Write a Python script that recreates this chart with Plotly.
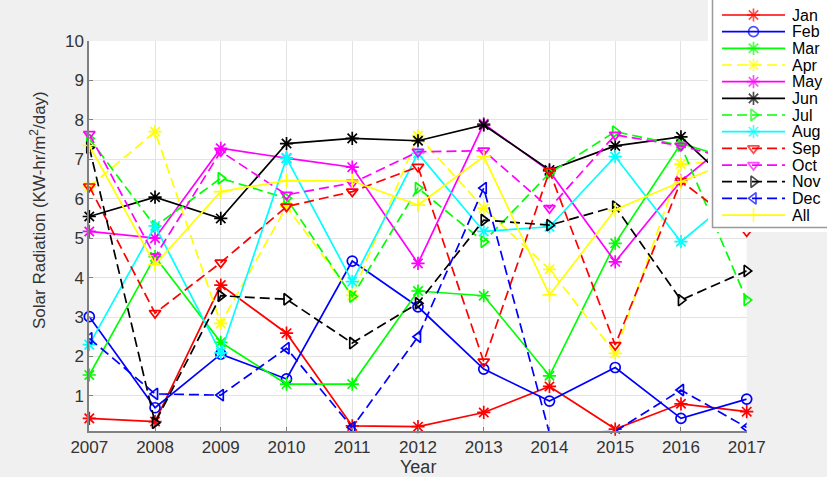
import plotly.graph_objects as go

# ---- data -------------------------------------------------------------
years = [2007, 2008, 2009, 2010, 2011, 2012, 2013, 2014, 2015, 2016, 2017]

jan = [0.43, 0.35, 3.81, 2.59, 0.24, 0.22, 0.58, 1.24, 0.16, 0.80, 0.60]
feb = [3.01, 0.70, 2.06, 1.43, 4.42, 3.26, 1.68, 0.87, 1.72, 0.43, 0.92]
mar = [1.53, 4.53, 2.36, 1.30, 1.30, 3.66, 3.54, 1.51, 4.87, 7.40, 6.90]
apr = [6.30, 7.70, 2.84, 5.80, 3.55, 7.60, 5.76, 4.21, 2.08, 6.88, 7.00]
may = [5.17, 5.00, 7.28, 7.03, 6.80, 4.36, 7.90, 6.70, 4.40, 6.45, 7.80]
jun = [5.55, 6.04, 5.50, 7.40, 7.53, 7.47, 7.87, 6.73, 7.34, 7.57, 6.00]
jul = [7.53, 5.30, 6.52, 6.01, 3.52, 6.27, 4.91, 6.65, 7.70, 7.35, 3.43]
aug = [2.30, 5.31, 2.09, 7.03, 3.90, 7.15, 5.17, 5.29, 7.07, 4.91, 6.30]
sep = [6.31, 3.10, 4.38, 5.80, 6.18, 6.81, 1.87, 6.70, 2.29, 6.45, 5.17]
oct_ = [7.64, 4.53, 7.20, 6.10, 6.40, 7.19, 7.22, 5.76, 7.62, 7.34, 6.90]
nov = [7.30, 0.32, 3.54, 3.45, 2.34, 3.35, 5.46, 5.33, 5.80, 3.43, 4.17]
dec = [2.46, 1.05, 1.02, 2.21, 0.20, 2.50, 6.27, 0.05, 0.10, 1.15, 0.20]
all_ = [7.35, 4.33, 6.18, 6.46, 6.45, 5.84, 7.07, 3.56, 5.72, 6.43, 7.10]

y_ticks = [1, 2, 3, 4, 5, 6, 7, 8, 9, 10]

# name, values, colour, dash, marker symbol
DASH = "10px,5px"
series = [
    ("Jan", jan, "#ff0000", "solid", "asterisk-open"),
    ("Feb", feb, "#0000ff", "solid", "circle-open"),
    ("Mar", mar, "#00ff00", "solid", "asterisk-open"),
    ("Apr", apr, "#ffff00", DASH, "asterisk-open"),
    ("May", may, "#ff00ff", "solid", "asterisk-open"),
    ("Jun", jun, "#000000", "solid", "asterisk-open"),
    ("Jul", jul, "#00ff00", DASH, "triangle-right-open"),
    ("Aug", aug, "#00ffff", "solid", "asterisk-open"),
    ("Sep", sep, "#ff0000", DASH, "triangle-down-open"),
    ("Oct", oct_, "#ff00ff", DASH, "triangle-down-open"),
    ("Nov", nov, "#000000", DASH, "triangle-right-open"),
    ("Dec", dec, "#0000ff", DASH, "triangle-left-open"),
    ("All", all_, "#ffff00", "solid", "cross-thin-open"),
]

# ---- geometry (pixels) ------------------------------------------------
W, H = 827, 477
PX_L, PX_R, PX_T, PX_B = 89.3, 746.7, 41.0, 431.0
LG_L, LG_B = 708.0, 232.0          # legend subplot region (left, bottom)

FONT = "Liberation Sans, Arial, sans-serif"
AX_GREY = "#808080"
TXT = "#333333"

fig = go.Figure()

for name, vals, col, dash, sym in series:
    fig.add_trace(go.Scatter(
        x=years, y=vals, name=name, mode="lines+markers",
        line=dict(color=col, width=1.7, dash=dash),
        marker=dict(symbol=sym, size=11 if "asterisk" in sym else 10,
                    color=col, line=dict(color=col, width=1.7)),
        cliponaxis=(name == "Dec"),
        xaxis="x", yaxis="y", showlegend=False,
    ))

# ---- legend drawn in its own pixel-scaled subplot ---------------------
row0, row_step = 15.0, 16.67
for i, (name, vals, col, dash, sym) in enumerate(series):
    yc = row0 + i * row_step
    fig.add_trace(go.Scatter(
        x=[722, 753.5, 785], y=[yc, yc, yc], mode="lines+markers",
        line=dict(color=col, width=1.7, dash=dash),
        marker=dict(symbol=sym, size=[0, 11 if "asterisk" in sym else 10, 0],
                    color=col, line=dict(color=col, width=1.7)),
        xaxis="x2", yaxis="y2", showlegend=False, hoverinfo="skip",
    ))
    fig.add_annotation(x=790, y=yc, xref="x2", yref="y2", text=name,
                       showarrow=False, xanchor="left", yanchor="middle",
                       font=dict(family=FONT, size=16, color="#000000"))

fig.add_shape(type="rect", xref="x2", yref="y2", x0=712.5, x1=850,
              y0=-20, y1=227.5, fillcolor="white",
              line=dict(color="#9a9a9a", width=1.5), layer="below")

# ---- axes -------------------------------------------------------------
fig.update_layout(
    width=W, height=H,
    margin=dict(l=0, r=0, t=0, b=0, autoexpand=False),
    paper_bgcolor="#f0f0f0", plot_bgcolor="white",
    showlegend=False,
    xaxis=dict(
        domain=[PX_L / W, PX_R / W], range=[2007, 2017], automargin=False,
        tickmode="array", tickvals=years, ticktext=[str(y) for y in years],
        showgrid=True, gridcolor="#e3e3e3", gridwidth=1,
        zeroline=False, showline=True, linecolor=AX_GREY, linewidth=2,
        ticks="inside", ticklen=4, tickcolor=AX_GREY,
        tickfont=dict(family=FONT, size=17, color=TXT), anchor="y",
    ),
    yaxis=dict(
        domain=[1 - PX_B / H, 1 - PX_T / H], range=[0.11, 10], automargin=False,
        tickmode="array", tickvals=y_ticks,
        showgrid=True, gridcolor="#e3e3e3", gridwidth=1,
        zeroline=False, showline=True, linecolor=AX_GREY, linewidth=2,
        ticks="inside", ticklen=4, tickcolor=AX_GREY,
        tickfont=dict(family=FONT, size=17, color=TXT), anchor="x",
    ),
    xaxis2=dict(domain=[LG_L / W, 1], range=[LG_L, W], visible=False,
                anchor="y2", fixedrange=True, automargin=False),
    yaxis2=dict(domain=[1 - LG_B / H, 1], range=[LG_B, 0], visible=False,
                anchor="x2", fixedrange=True, automargin=False),
)

fig.add_annotation(x=418 / W, y=1 - 467 / H, xref="paper", yref="paper",
                   xanchor="center", yanchor="middle",
                   text="Year", showarrow=False,
                   font=dict(family=FONT, size=18, color=TXT))
fig.add_annotation(x=38 / W, y=1 - 210 / H, xref="paper", yref="paper",
                   xanchor="center", yanchor="middle",
                   text="Solar Radiation (KW-hr/m<sup>2</sup>/day)",
                   textangle=-90, showarrow=False,
                   font=dict(family=FONT, size=17, color=TXT))

fig.write_html("out.html")
